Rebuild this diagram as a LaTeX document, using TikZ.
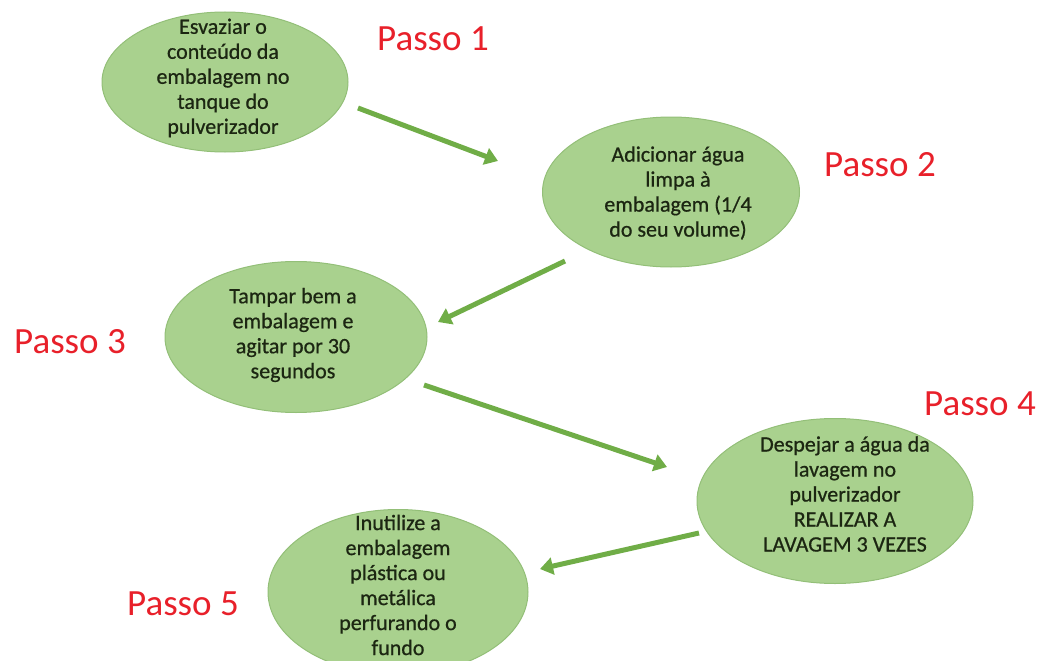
\documentclass[tikz,border=0pt]{standalone}
\usepackage{fontspec}
\setmainfont{Carlito}
\newfontfamily\stepfont[FakeBold=0.7]{Carlito}
\usetikzlibrary{arrows.meta,shapes.geometric}
\definecolor{ellfill}{HTML}{A9D18E}
\definecolor{elldraw}{HTML}{93BF78}
\definecolor{arrowgreen}{HTML}{70AD47}
\definecolor{passored}{HTML}{E8202A}
\definecolor{txtdark}{HTML}{1C2612}
\tikzset{
  stepell/.style={ellipse, fill=ellfill, draw=elldraw, line width=1pt, inner sep=0pt},
  steptext/.style={align=center, text=txtdark, font=\stepfont\fontsize{22}{25}\selectfont, inner sep=0pt},
  passolabel/.style={text=passored, font=\fontsize{37}{40}\selectfont, inner sep=0pt},
  flowarrow/.style={draw=arrowgreen, line width=5pt, -{Triangle[length=13pt,width=17pt]}}
}
\begin{document}
\begin{tikzpicture}[x=1pt,y=-1pt]
\useasboundingbox (0,0) rectangle (1045,661);
\clip (0,0) rectangle (1045,661);
% ellipses
\node[stepell, minimum width=246pt, minimum height=140pt] (e1) at (225,82) {};
\node[stepell, minimum width=257pt, minimum height=150pt] (e2) at (671,192) {};
\node[stepell, minimum width=262pt, minimum height=151pt] (e3) at (296,337) {};
\node[stepell, minimum width=276pt, minimum height=165pt] (e4) at (835,501) {};
\node[stepell, minimum width=260pt, minimum height=165pt] (e5) at (398,592) {};
% texts
\node[steptext] (t1) at (223,78) {Esvaziar o\\conteúdo da\\embalagem no\\tanque do\\pulverizador};
\node[steptext] (t2) at (678,193) {Adicionar água\\limpa à\\embalagem (1/4\\do seu volume)};
\node[steptext] (t3) at (293,335) {Tampar bem a\\embalagem e\\agitar por 30\\segundos};
\node[steptext] (t4) at (845,494) {Despejar a água da\\lavagem no\\pulverizador\\REALIZAR A\\LAVAGEM 3 VEZES};
\node[steptext] (t5) at (398,585) {Inutilize a\\embalagem\\plástica ou\\metálica\\perfurando o\\fundo};
% labels
\node[passolabel] (p1) at (433,39) {Passo 1};
\node[passolabel] (p2) at (880,165) {Passo 2};
\node[passolabel] (p3) at (70,342) {Passo 3};
\node[passolabel] (p4) at (980,404) {Passo 4};
\node[passolabel] (p5) at (183,604) {Passo 5};
% arrow endpoints
\coordinate (a1s) at (358,108);
\coordinate (a1e) at (498,161);
\coordinate (a2s) at (565,261);
\coordinate (a2e) at (438,322);
\coordinate (a3s) at (424,385);
\coordinate (a3e) at (667,467);
\coordinate (a4s) at (699,533);
\coordinate (a4e) at (540,569);
\draw[flowarrow] (a1s) -- (a1e);
\draw[flowarrow] (a2s) -- (a2e);
\draw[flowarrow] (a3s) -- (a3e);
\draw[flowarrow] (a4s) -- (a4e);
\end{tikzpicture}
\end{document}
